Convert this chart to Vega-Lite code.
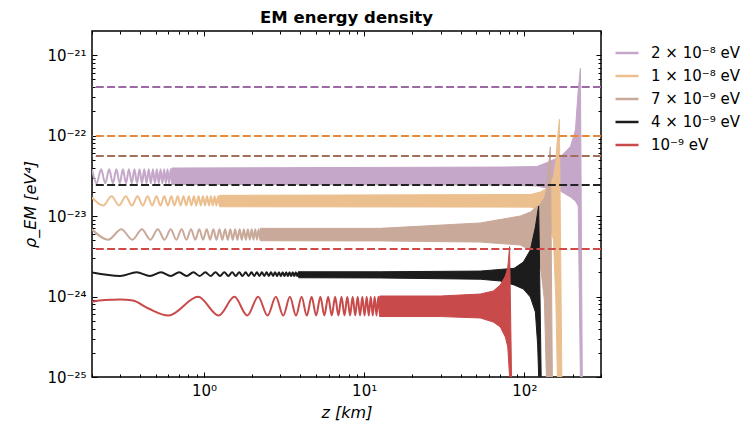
{
  "$schema": "https://vega.github.io/schema/vega-lite/v6.json",
  "width": 509,
  "height": 346,
  "autosize": "none",
  "padding": {"left": 92, "top": 31, "right": 154, "bottom": 49},
  "background": "white",
  "title": {"text": "EM energy density", "font": "DejaVu Sans", "fontSize": 16.5, "fontWeight": "bold", "color": "black", "offset": 4},
  "config": {"view": {"stroke": "black", "strokeWidth": 1.5}, "font": "DejaVu Sans"},
  "datasets": {
    "wig": [
      {"s":"p","z":0.2,"v":3.8e-23},{"s":"p","z":0.214,"v":2.55e-23},{"s":"p","z":0.228,"v":3.8e-23},{"s":"p","z":0.242,"v":2.55e-23},{"s":"p","z":0.256,"v":3.8e-23},{"s":"p","z":0.27,"v":2.55e-23},{"s":"p","z":0.284,"v":3.8e-23},{"s":"p","z":0.298,"v":2.55e-23},{"s":"p","z":0.312,"v":3.8e-23},{"s":"p","z":0.326,"v":2.55e-23},{"s":"p","z":0.34,"v":3.8e-23},{"s":"p","z":0.354,"v":2.55e-23},{"s":"p","z":0.368,"v":3.8e-23},{"s":"p","z":0.382,"v":2.55e-23},{"s":"p","z":0.396,"v":3.8e-23},{"s":"p","z":0.41,"v":2.55e-23},{"s":"p","z":0.424,"v":3.8e-23},{"s":"p","z":0.438,"v":2.55e-23},{"s":"p","z":0.452,"v":3.8e-23},{"s":"p","z":0.466,"v":2.55e-23},{"s":"p","z":0.48,"v":3.8e-23},{"s":"p","z":0.494,"v":2.55e-23},{"s":"p","z":0.508,"v":3.8e-23},{"s":"p","z":0.522,"v":2.55e-23},{"s":"p","z":0.536,"v":3.8e-23},{"s":"p","z":0.55,"v":2.55e-23},{"s":"p","z":0.564,"v":3.8e-23},{"s":"p","z":0.578,"v":2.55e-23},{"s":"p","z":0.592,"v":3.8e-23},{"s":"p","z":0.606,"v":2.55e-23},{"s":"p","z":0.62,"v":3.8e-23},{"s":"p","z":0.634,"v":2.55e-23},{"s":"p","z":0.648,"v":3.8e-23},
      {"s":"o","z":0.2,"v":1.7e-23},{"s":"o","z":0.235,"v":1.35e-23},{"s":"o","z":0.265,"v":1.76e-23},{"s":"o","z":0.295,"v":1.35e-23},{"s":"o","z":0.325,"v":1.76e-23},{"s":"o","z":0.355,"v":1.35e-23},{"s":"o","z":0.385,"v":1.76e-23},{"s":"o","z":0.415,"v":1.35e-23},{"s":"o","z":0.445,"v":1.76e-23},{"s":"o","z":0.475,"v":1.35e-23},{"s":"o","z":0.505,"v":1.76e-23},{"s":"o","z":0.535,"v":1.35e-23},{"s":"o","z":0.565,"v":1.76e-23},{"s":"o","z":0.595,"v":1.35e-23},{"s":"o","z":0.625,"v":1.76e-23},{"s":"o","z":0.655,"v":1.35e-23},{"s":"o","z":0.685,"v":1.76e-23},{"s":"o","z":0.715,"v":1.35e-23},{"s":"o","z":0.745,"v":1.76e-23},{"s":"o","z":0.775,"v":1.35e-23},{"s":"o","z":0.805,"v":1.76e-23},{"s":"o","z":0.835,"v":1.35e-23},{"s":"o","z":0.865,"v":1.76e-23},{"s":"o","z":0.895,"v":1.35e-23},{"s":"o","z":0.925,"v":1.76e-23},{"s":"o","z":0.955,"v":1.35e-23},{"s":"o","z":0.985,"v":1.76e-23},{"s":"o","z":1.015,"v":1.35e-23},{"s":"o","z":1.045,"v":1.76e-23},{"s":"o","z":1.075,"v":1.35e-23},{"s":"o","z":1.105,"v":1.76e-23},{"s":"o","z":1.135,"v":1.35e-23},{"s":"o","z":1.165,"v":1.76e-23},{"s":"o","z":1.195,"v":1.35e-23},{"s":"o","z":1.225,"v":1.76e-23},{"s":"o","z":1.255,"v":1.35e-23},{"s":"o","z":1.285,"v":1.76e-23},
      {"s":"b","z":0.2,"v":6.84e-24},{"s":"b","z":0.2525,"v":5.08e-24},{"s":"b","z":0.305,"v":6.84e-24},{"s":"b","z":0.3575,"v":5.08e-24},{"s":"b","z":0.41,"v":6.84e-24},{"s":"b","z":0.4625,"v":5.08e-24},{"s":"b","z":0.515,"v":6.84e-24},{"s":"b","z":0.5675,"v":5.08e-24},{"s":"b","z":0.62,"v":6.84e-24},{"s":"b","z":0.6725,"v":5.08e-24},{"s":"b","z":0.725,"v":6.84e-24},{"s":"b","z":0.7775,"v":5.08e-24},{"s":"b","z":0.83,"v":6.84e-24},{"s":"b","z":0.8825,"v":5.08e-24},{"s":"b","z":0.935,"v":6.84e-24},{"s":"b","z":0.9875,"v":5.08e-24},{"s":"b","z":1.04,"v":6.84e-24},{"s":"b","z":1.0925,"v":5.08e-24},{"s":"b","z":1.145,"v":6.84e-24},{"s":"b","z":1.1975,"v":5.08e-24},{"s":"b","z":1.25,"v":6.84e-24},{"s":"b","z":1.3025,"v":5.08e-24},{"s":"b","z":1.355,"v":6.84e-24},{"s":"b","z":1.4075,"v":5.08e-24},{"s":"b","z":1.46,"v":6.84e-24},{"s":"b","z":1.5125,"v":5.08e-24},{"s":"b","z":1.565,"v":6.84e-24},{"s":"b","z":1.6175,"v":5.08e-24},{"s":"b","z":1.67,"v":6.84e-24},{"s":"b","z":1.7225,"v":5.08e-24},{"s":"b","z":1.775,"v":6.84e-24},{"s":"b","z":1.8275,"v":5.08e-24},{"s":"b","z":1.88,"v":6.84e-24},{"s":"b","z":1.9325,"v":5.08e-24},{"s":"b","z":1.985,"v":6.84e-24},{"s":"b","z":2.0375,"v":5.08e-24},{"s":"b","z":2.09,"v":6.84e-24},{"s":"b","z":2.1425,"v":5.08e-24},{"s":"b","z":2.195,"v":6.84e-24},{"s":"b","z":2.2475,"v":5.08e-24},{"s":"b","z":2.3,"v":6.84e-24},
      {"s":"k","z":0.2,"v":1.99e-24},{"s":"k","z":0.3,"v":1.8e-24},{"s":"k","z":0.38,"v":2.0e-24},{"s":"k","z":0.46,"v":1.8e-24},{"s":"k","z":0.54,"v":2.0e-24},{"s":"k","z":0.62,"v":1.8e-24},{"s":"k","z":0.7,"v":2.0e-24},{"s":"k","z":0.78,"v":1.8e-24},{"s":"k","z":0.86,"v":2.0e-24},{"s":"k","z":0.94,"v":1.8e-24},{"s":"k","z":1.02,"v":2.0e-24},{"s":"k","z":1.1,"v":1.8e-24},{"s":"k","z":1.18,"v":2.0e-24},{"s":"k","z":1.26,"v":1.8e-24},{"s":"k","z":1.34,"v":2.0e-24},{"s":"k","z":1.42,"v":1.8e-24},{"s":"k","z":1.5,"v":2.0e-24},{"s":"k","z":1.58,"v":1.8e-24},{"s":"k","z":1.66,"v":2.0e-24},{"s":"k","z":1.74,"v":1.8e-24},{"s":"k","z":1.82,"v":2.0e-24},{"s":"k","z":1.9,"v":1.8e-24},{"s":"k","z":1.98,"v":2.0e-24},{"s":"k","z":2.06,"v":1.8e-24},{"s":"k","z":2.14,"v":2.0e-24},{"s":"k","z":2.22,"v":1.8e-24},{"s":"k","z":2.3,"v":2.0e-24},{"s":"k","z":2.38,"v":1.8e-24},{"s":"k","z":2.46,"v":2.0e-24},{"s":"k","z":2.54,"v":1.8e-24},{"s":"k","z":2.62,"v":2.0e-24},{"s":"k","z":2.7,"v":1.8e-24},{"s":"k","z":2.78,"v":2.0e-24},{"s":"k","z":2.86,"v":1.8e-24},{"s":"k","z":2.94,"v":2.0e-24},{"s":"k","z":3.02,"v":1.8e-24},{"s":"k","z":3.1,"v":2.0e-24},{"s":"k","z":3.18,"v":1.8e-24},{"s":"k","z":3.26,"v":2.0e-24},{"s":"k","z":3.34,"v":1.8e-24},{"s":"k","z":3.42,"v":2.0e-24},{"s":"k","z":3.5,"v":1.8e-24},{"s":"k","z":3.58,"v":2.0e-24},{"s":"k","z":3.66,"v":1.8e-24},{"s":"k","z":3.74,"v":2.0e-24},{"s":"k","z":3.82,"v":1.8e-24},{"s":"k","z":3.9,"v":2.0e-24},{"s":"k","z":3.98,"v":1.8e-24},{"s":"k","z":4.06,"v":2.0e-24},
      {"s":"r","z":0.2,"v":8.6e-25},{"s":"r","z":0.24,"v":9.05e-25},{"s":"r","z":0.3,"v":9.2e-25},{"s":"r","z":0.36,"v":8.9e-25},{"s":"r","z":0.45,"v":7.1e-25},{"s":"r","z":0.6,"v":5.8e-25},{"s":"r","z":0.92,"v":9.9e-25},{"s":"r","z":1.235,"v":5.8e-25},{"s":"r","z":1.55,"v":9.9e-25},{"s":"r","z":1.865,"v":5.8e-25},{"s":"r","z":2.18,"v":9.9e-25},{"s":"r","z":2.495,"v":5.8e-25},{"s":"r","z":2.81,"v":9.9e-25},{"s":"r","z":3.125,"v":5.8e-25},{"s":"r","z":3.44,"v":9.9e-25},{"s":"r","z":3.755,"v":5.8e-25},{"s":"r","z":4.07,"v":9.9e-25},{"s":"r","z":4.385,"v":5.8e-25},{"s":"r","z":4.7,"v":9.9e-25},{"s":"r","z":5.015,"v":5.8e-25},{"s":"r","z":5.33,"v":9.9e-25},{"s":"r","z":5.645,"v":5.8e-25},{"s":"r","z":5.96,"v":9.9e-25},{"s":"r","z":6.275,"v":5.8e-25},{"s":"r","z":6.59,"v":9.9e-25},{"s":"r","z":6.905,"v":5.8e-25},{"s":"r","z":7.22,"v":9.9e-25},{"s":"r","z":7.535,"v":5.8e-25},{"s":"r","z":7.85,"v":9.9e-25},{"s":"r","z":8.165,"v":5.8e-25},{"s":"r","z":8.48,"v":9.9e-25},{"s":"r","z":8.795,"v":5.8e-25},{"s":"r","z":9.11,"v":9.9e-25},{"s":"r","z":9.425,"v":5.8e-25},{"s":"r","z":9.74,"v":9.9e-25},{"s":"r","z":10.055,"v":5.8e-25},{"s":"r","z":10.37,"v":9.9e-25},{"s":"r","z":10.685,"v":5.8e-25},{"s":"r","z":11.0,"v":9.9e-25},{"s":"r","z":11.315,"v":5.8e-25},{"s":"r","z":11.63,"v":9.9e-25},{"s":"r","z":11.945,"v":5.8e-25},{"s":"r","z":12.26,"v":9.9e-25},{"s":"r","z":12.575,"v":5.8e-25},{"s":"r","z":12.89,"v":9.9e-25}
    ],
    "band": [
      {"s":"p","z":0.63,"hi":3.95e-23,"lo":2.47e-23},{"s":"p","z":70.8,"hi":4.06e-23,"lo":2.43e-23},{"s":"p","z":119.6,"hi":4.12e-23,"lo":2.36e-23},{"s":"p","z":137.7,"hi":4.59e-23,"lo":2.23e-23},{"s":"p","z":167.9,"hi":5.45e-23,"lo":2.04e-23},{"s":"p","z":193.9,"hi":7.26e-23,"lo":1.72e-23},{"s":"p","z":208.4,"hi":1.17e-22,"lo":1.54e-23},{"s":"p","z":216.9,"hi":3.67e-22,"lo":1.33e-23},{"s":"p","z":223.9,"hi":6.84e-22,"lo":1e-25},{"s":"p","z":229.9,"hi":1e-25,"lo":1e-25},
      {"s":"o","z":1.25,"hi":1.807e-23,"lo":1.304e-23},{"s":"o","z":109,"hi":1.85e-23,"lo":1.29e-23},{"s":"o","z":125.9,"hi":1.99e-23,"lo":1.19e-23},{"s":"o","z":139.3,"hi":2.23e-23,"lo":1.0e-23},{"s":"o","z":152,"hi":3.05e-23,"lo":5.03e-24},{"s":"o","z":157.3,"hi":4.96e-23,"lo":9.05e-25},{"s":"o","z":160.8,"hi":8.79e-23,"lo":1e-25},{"s":"o","z":165.5,"hi":1.59e-22,"lo":1e-25},{"s":"o","z":171.5,"hi":1e-25,"lo":1e-25},
      {"s":"b","z":2.25,"hi":7.03e-24,"lo":4.93e-24},{"s":"b","z":12.6,"hi":7.03e-24,"lo":4.9e-24},{"s":"b","z":53.1,"hi":8.2e-24,"lo":4.75e-24},{"s":"b","z":94.4,"hi":1.0e-23,"lo":4.36e-24},{"s":"b","z":109,"hi":1.12e-23,"lo":3.78e-24},{"s":"b","z":125.9,"hi":1.41e-23,"lo":2.46e-24},{"s":"b","z":133.4,"hi":1.67e-23,"lo":9.05e-25},{"s":"b","z":137.3,"hi":2.1e-23,"lo":1e-25},{"s":"b","z":145.4,"hi":7.26e-23,"lo":1e-25},{"s":"b","z":149.6,"hi":1e-25,"lo":1e-25},
      {"s":"k","z":3.9,"hi":2.03e-24,"lo":1.71e-24},{"s":"k","z":12.6,"hi":2.03e-24,"lo":1.7e-24},{"s":"k","z":53.1,"hi":2.07e-24,"lo":1.64e-24},{"s":"k","z":70.8,"hi":2.17e-24,"lo":1.56e-24},{"s":"k","z":86.4,"hi":2.24e-24,"lo":1.39e-24},{"s":"k","z":98.6,"hi":2.68e-24,"lo":1.24e-24},{"s":"k","z":109,"hi":3.78e-24,"lo":9.86e-25},{"s":"k","z":117.2,"hi":7.3e-24,"lo":6.42e-25},{"s":"k","z":121.1,"hi":1.12e-23,"lo":2.5e-25},{"s":"k","z":122.9,"hi":1.33e-23,"lo":1e-25},{"s":"k","z":127.4,"hi":1e-25,"lo":1e-25},
      {"s":"r","z":12.5,"hi":1.014e-24,"lo":5.64e-25},{"s":"r","z":29.9,"hi":1.014e-24,"lo":5.64e-25},{"s":"r","z":53.1,"hi":1.074e-24,"lo":5.41e-25},{"s":"r","z":64.0,"hi":1.17e-24,"lo":4.82e-25},{"s":"r","z":70.8,"hi":1.39e-24,"lo":4.18e-25},{"s":"r","z":76.1,"hi":1.8e-24,"lo":3.14e-25},{"s":"r","z":78.8,"hi":2.26e-24,"lo":2.36e-25},{"s":"r","z":80.9,"hi":4.18e-24,"lo":1e-25},{"s":"r","z":83.2,"hi":1e-25,"lo":1e-25}
    ],
    "lvl": [
      {"s":"p","v":4.0e-22},{"s":"o","v":9.9e-23},{"s":"b","v":5.56e-23},{"s":"k","v":2.43e-23},{"s":"r","v":3.89e-24}
    ]
  },
  "layer": [
    {
      "data": {"name": "band"},
      "mark": {"type": "area", "strokeWidth": 1, "clip": true},
      "encoding": {
        "x": {"field": "z", "type": "quantitative", "scale": {"type": "log", "domain": [0.2, 301], "nice": false},
          "axis": {"orient": "bottom", "values": [0.2,0.3,0.4,0.5,0.6,0.7,0.8,0.9,1,2,3,4,5,6,7,8,9,10,20,30,40,50,60,70,80,90,100,200,300],
            "labelExpr": "abs(log(datum.value)/LN10 - round(log(datum.value)/LN10)) > 0.001 ? '' : round(log(datum.value)/LN10) == 0 ? '10⁰' : round(log(datum.value)/LN10) == 1 ? '10¹' : '10²'",
            "tickSize": {"condition": {"test": "abs(log(datum.value)/LN10 - round(log(datum.value)/LN10)) < 0.001", "value": -5}, "value": -3},
            "tickColor": "black", "tickWidth": 1, "domain": false, "grid": false,
            "labelFont": "DejaVu Sans", "labelFontSize": 15, "labelColor": "black", "labelPadding": 11, "labelOverlap": false, "labelFlush": false,
            "title": "z [km]", "titleFont": "DejaVu Sans", "titleFontSize": 16, "titleFontStyle": "italic", "titleFontWeight": "normal", "titleColor": "black", "titlePadding": 4}},
        "y": {"field": "hi", "type": "quantitative", "scale": {"type": "log", "domain": [1e-25, 1.99e-21], "nice": false},
          "axis": {"orient": "left", "values": [1e-25,2e-25,3e-25,4e-25,5e-25,6e-25,7e-25,8e-25,9e-25,1e-24,2e-24,3e-24,4e-24,5e-24,6e-24,7e-24,8e-24,9e-24,1e-23,2e-23,3e-23,4e-23,5e-23,6e-23,7e-23,8e-23,9e-23,1e-22,2e-22,3e-22,4e-22,5e-22,6e-22,7e-22,8e-22,9e-22,1e-21],
            "labelExpr": "abs(log(datum.value)/LN10 - round(log(datum.value)/LN10)) > 0.001 ? '' : round(log(datum.value)/LN10) == -21 ? '10⁻²¹' : round(log(datum.value)/LN10) == -22 ? '10⁻²²' : round(log(datum.value)/LN10) == -23 ? '10⁻²³' : round(log(datum.value)/LN10) == -24 ? '10⁻²⁴' : '10⁻²⁵'",
            "tickSize": {"condition": {"test": "abs(log(datum.value)/LN10 - round(log(datum.value)/LN10)) < 0.001", "value": -5}, "value": -3},
            "tickColor": "black", "tickWidth": 1, "domain": false, "grid": false,
            "labelFont": "DejaVu Sans", "labelFontSize": 15, "labelColor": "black", "labelPadding": 11, "labelOverlap": false, "labelFlush": false,
            "title": "ρ_EM [eV⁴]", "titleFont": "DejaVu Sans", "titleFontSize": 16, "titleFontStyle": "italic", "titleFontWeight": "normal", "titleColor": "black", "titlePadding": 8}},
        "y2": {"field": "lo"},
        "fill": {"field": "s", "type": "nominal", "scale": {"domain": ["r","k","b","o","p"], "range": ["#c94a4a","#1c1c1c","#c9a999","#ecbf8f","#c5a7c9"]}, "legend": null},
        "stroke": {"field": "s", "type": "nominal", "scale": {"domain": ["p","o","b","k","r"], "range": ["#c5a7c9","#ecbf8f","#c9a999","#1c1c1c","#c94a4a"]},
          "legend": {"orient": "right", "title": null, "offset": 3, "padding": 9, "symbolType": "stroke", "symbolSize": 529, "symbolStrokeWidth": 2.5, "labelFont": "DejaVu Sans", "labelFontSize": 15, "labelColor": "black", "labelOffset": 11, "rowPadding": 2, "labelLimit": 200,
            "labelExpr": "datum.value == 'p' ? '2 × 10⁻⁸  eV' : datum.value == 'o' ? '1 × 10⁻⁸  eV' : datum.value == 'b' ? '7 × 10⁻⁹  eV' : datum.value == 'k' ? '4 × 10⁻⁹  eV' : '10⁻⁹  eV'"}}
      }
    },
    {
      "data": {"name": "wig"},
      "mark": {"type": "line", "interpolate": "monotone", "strokeWidth": 2, "clip": true},
      "encoding": {
        "x": {"field": "z", "type": "quantitative", "scale": {"type": "log", "domain": [0.2, 301], "nice": false},
          "axis": {"orient": "top", "values": [0.2,0.3,0.4,0.5,0.6,0.7,0.8,0.9,1,2,3,4,5,6,7,8,9,10,20,30,40,50,60,70,80,90,100,200,300], "labels": false, "title": null,
            "tickSize": {"condition": {"test": "abs(log(datum.value)/LN10 - round(log(datum.value)/LN10)) < 0.001", "value": -5}, "value": -3},
            "tickColor": "black", "tickWidth": 1, "domain": false, "grid": false}},
        "y": {"field": "v", "type": "quantitative", "scale": {"type": "log", "domain": [1e-25, 1.99e-21], "nice": false},
          "axis": {"orient": "right", "values": [1e-25,2e-25,3e-25,4e-25,5e-25,6e-25,7e-25,8e-25,9e-25,1e-24,2e-24,3e-24,4e-24,5e-24,6e-24,7e-24,8e-24,9e-24,1e-23,2e-23,3e-23,4e-23,5e-23,6e-23,7e-23,8e-23,9e-23,1e-22,2e-22,3e-22,4e-22,5e-22,6e-22,7e-22,8e-22,9e-22,1e-21], "labels": false, "title": null,
            "tickSize": {"condition": {"test": "abs(log(datum.value)/LN10 - round(log(datum.value)/LN10)) < 0.001", "value": -5}, "value": -3},
            "tickColor": "black", "tickWidth": 1, "domain": false, "grid": false}},
        "stroke": {"field": "s", "type": "nominal", "scale": {"domain": ["p","o","b","k","r"], "range": ["#c5a7c9","#ecbf8f","#c9a999","#1c1c1c","#c94a4a"]},
          "legend": {"orient": "right", "title": null, "offset": 3, "padding": 9, "symbolType": "stroke", "symbolSize": 529, "symbolStrokeWidth": 2.5, "labelFont": "DejaVu Sans", "labelFontSize": 15, "labelColor": "black", "labelOffset": 11, "rowPadding": 2, "labelLimit": 200,
            "labelExpr": "datum.value == 'p' ? '2 × 10⁻⁸  eV' : datum.value == 'o' ? '1 × 10⁻⁸  eV' : datum.value == 'b' ? '7 × 10⁻⁹  eV' : datum.value == 'k' ? '4 × 10⁻⁹  eV' : '10⁻⁹  eV'"}}
      }
    },
    {
      "data": {"name": "lvl"},
      "mark": {"type": "rule", "strokeDash": [8, 3.3], "strokeWidth": 2},
      "encoding": {
        "y": {"field": "v", "type": "quantitative", "scale": {"type": "log", "domain": [1e-25, 1.99e-21], "nice": false}, "axis": null},
        "color": {"field": "s", "type": "nominal", "scale": {"domain": ["k","r","p","o","b"], "range": ["#222222","#d04a4a","#9b6aa2","#e8893a","#a26f5a"]}, "legend": null}
      }
    }
  ],
  "resolve": {"axis": {"x": "independent", "y": "independent"}}
}
